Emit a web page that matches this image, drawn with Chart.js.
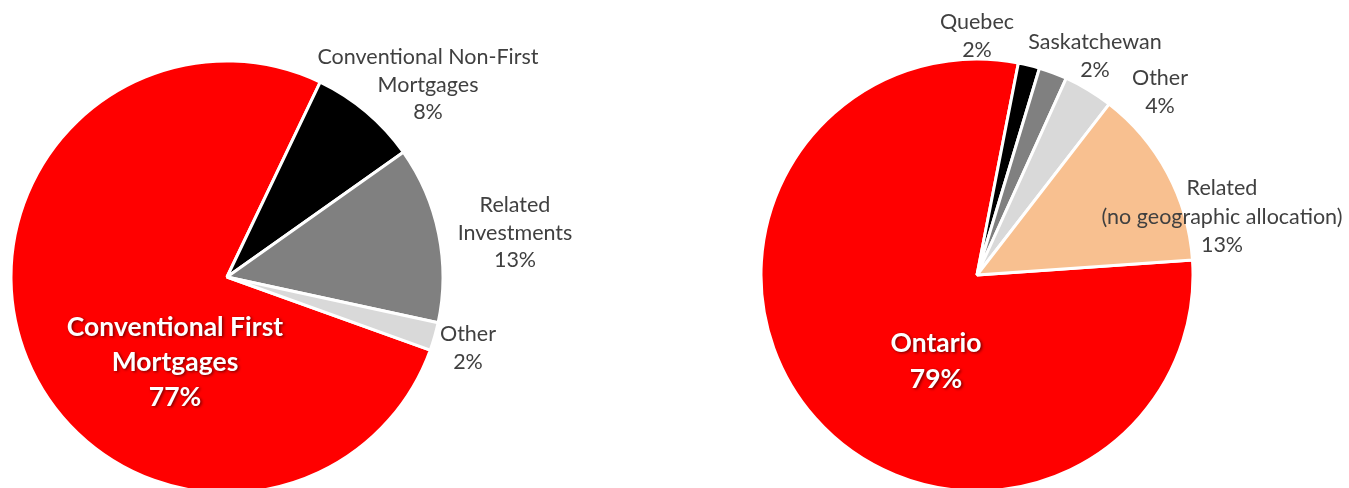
<!DOCTYPE html>
<html><head><meta charset="utf-8">
<script src="https://cdn.jsdelivr.net/npm/chart.js@4.4.0/dist/chart.umd.min.js"></script>
<style>
html,body{margin:0;padding:0;background:#fff;}
#wrap{position:relative;width:1349px;height:488px;overflow:hidden;}
canvas{position:absolute;left:0;top:0;}
</style></head><body>
<div id="wrap">
<canvas id="c1" width="1349" height="488"></canvas>
<canvas id="c2" width="1349" height="488"></canvas>
</div>
<script>
// ---- data ----
const typeCategories = [['Conventional First', 'Mortgages'], ['Conventional Non-First', 'Mortgages'], ['Related', 'Investments'], ['Other']];
const typeValues = [76.6, 8.1, 13.2, 2.1];
const typeColors = ['#FF0000', '#000000', '#808080', '#D9D9D9'];

const regionCategories = [['Ontario'], ['Quebec'], ['Saskatchewan'], ['Other'], ['Related', '(no geographic allocation)']];
const regionValues = [79.1, 1.6, 2.1, 3.7, 13.4];
const regionColors = ['#FF0000', '#000000', '#808080', '#D9D9D9', '#F8C090'];

// ---- label plugin ----
const pieLabels = {
  id: 'pieLabels',
  afterDatasetsDraw(chart, args, opts) {
    const ctx = chart.ctx;
    const meta = chart.getDatasetMeta(0);
    const ds = chart.data.datasets[0];
    const total = ds.data.reduce((a, b) => a + b, 0);
    meta.data.forEach((arc, i) => {
      const spec = opts.layout[i];
      const cat = chart.data.labels[i];
      const lines = cat.concat([Math.round(ds.data[i] / total * 100) + '%']);
      const cx = arc.x + spec.dx, cy = arc.y + spec.dy;
      ctx.save();
      ctx.font = spec.inside ? opts.insideFont : opts.outsideFont;
      ctx.fillStyle = spec.inside ? '#FFFFFF' : '#404040';
      ctx.textAlign = 'center';
      ctx.textBaseline = 'middle';
      if (spec.inside) {
        ctx.shadowColor = 'rgba(0,0,0,0.55)';
        ctx.shadowBlur = 3;
        ctx.shadowOffsetX = 1.5;
        ctx.shadowOffsetY = 1.5;
      }
      const lh = spec.inside ? opts.insideLH : opts.outsideLH;
      lines.forEach((t, k) => ctx.fillText(t, cx, cy + (k - (lines.length - 1) / 2) * lh));
      ctx.restore();
    });
  }
};

function makePie(id, labels, values, colors, rotation, padding, layout, outsideLH, insideLH) {
  new Chart(document.getElementById(id), {
    type: 'pie',
    data: {
      labels: labels,
      datasets: [{
        data: values,
        backgroundColor: colors,
        borderColor: '#FFFFFF',
        borderWidth: 3,
        clip: false
      }]
    },
    options: {
      responsive: false,
      animation: false,
      rotation: rotation,
      radius: 216,
      layout: { padding: padding },
      plugins: {
        legend: { display: false },
        tooltip: { enabled: false },
        pieLabels: {
          layout: layout,
          outsideFont: '21.5px Lato',
          insideFont: 'bold 26.5px Lato',
          outsideLH: outsideLH,
          insideLH: insideLH
        }
      }
    },
    plugins: [pieLabels]
  });
}

makePie('c1', typeCategories, typeValues, typeColors, 109.8,
  { left: 0, right: 895, top: 66, bottom: 0 },
  [
    { dx: -52, dy: 85, inside: true },
    { dx: 201, dy: -192 },
    { dx: 288, dy: -44 },
    { dx: 241, dy: 71 }
  ], 27.5, 35);

makePie('c2', regionCategories, regionValues, regionColors, 86,
  { left: 761, right: 156, top: 62, bottom: 0 },
  [
    { dx: -41, dy: 86, inside: true },
    { dx: 0, dy: -239 },
    { dx: 118, dy: -219 },
    { dx: 183, dy: -183 },
    { dx: 245, dy: -58 }
  ], 28.5, 36);
</script>
</body></html>
